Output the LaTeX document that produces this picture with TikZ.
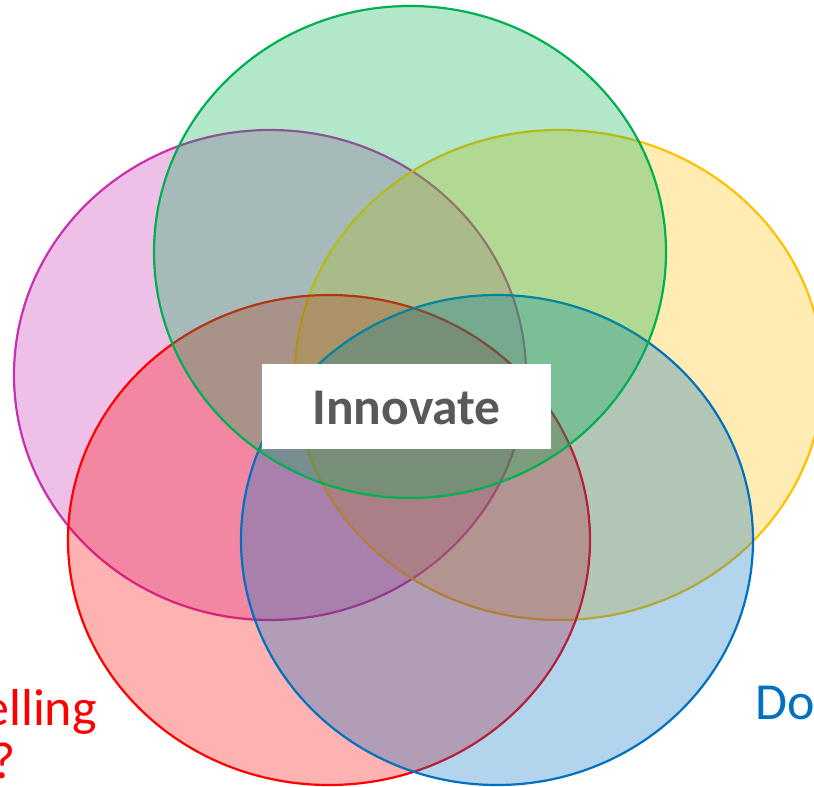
\documentclass[tikz,border=0pt]{standalone}
\usepackage{fontspec}
\setmainfont{Carlito}
\definecolor{cgreen}{RGB}{0,176,80}
\definecolor{cpink}{RGB}{200,48,175}
\definecolor{cyellow}{RGB}{255,192,0}
\definecolor{cred}{RGB}{255,0,0}
\definecolor{cblue}{RGB}{0,112,192}
\definecolor{cgray}{RGB}{89,89,89}
\begin{document}
\begin{tikzpicture}[x=1pt,y=-1pt,
  petal/.style={line width=2.2pt,draw=#1,fill=#1,fill opacity=0.3,draw opacity=1},
  bigtext/.style={inner sep=0pt,font=\fontsize{52}{60}\selectfont}]
\useasboundingbox (0,0) rectangle (814,787);
% five overlapping ellipses, back to front
\path[petal=cpink]   (270,375) ellipse [x radius=256, y radius=245];
\path[petal=cyellow] (559,375) ellipse [x radius=264, y radius=245];
\path[petal=cred]    (329,540) ellipse [x radius=261, y radius=245];
\path[petal=cblue]   (497,540) ellipse [x radius=256, y radius=245];
\path[petal=cgreen]  (410,252) ellipse [x radius=256, y radius=246];
% centre label
\node[fill=white,minimum width=289pt,minimum height=85pt,inner sep=0pt] (box) at (406.5,406.5) {};
\node[bigtext,anchor=base,text=cgray,font=\fontsize{51.5}{60}\selectfont\bfseries] (innovate) at (406.5,424) {Innovate};
% side labels running off the page
\node[bigtext,anchor=base east,text=cred] (lblA) at (97,725) {elling};
\node[bigtext,anchor=base east,text=cred] (lblB) at (16,778) {?};
\node[bigtext,anchor=base west,text=cblue] (lblC) at (755,719) {Do};
\end{tikzpicture}
\end{document}
